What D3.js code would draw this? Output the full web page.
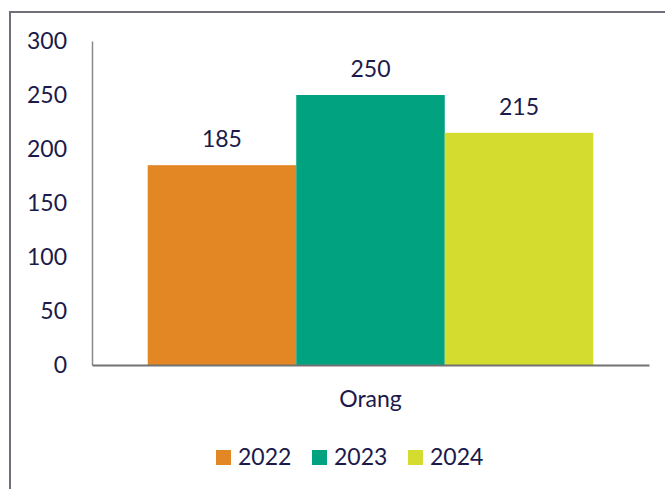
<!DOCTYPE html>
<html>
<head>
<meta charset="utf-8">
<script src="https://cdn.jsdelivr.net/npm/d3@7/dist/d3.min.js"></script>
<style>
  html, body { margin: 0; padding: 0; background: #fff; }
  svg { display: block; }
  text { font-family: Lato, "Open Sans", sans-serif; fill: #1b1a4a; }
</style>
</head>
<body>
<svg id="chart" width="665" height="489"></svg>
<script>
// Chart data
const categories = ["Orang"];
const seriesNames = ["2022", "2023", "2024"];
const seriesValues = [185, 250, 215];
const yTicks = [0, 50, 100, 150, 200, 250, 300];
const seriesColors = ["#E38624", "#00A27F", "#D4DC2F"];

const svg = d3.select("#chart");
const W = 665, H = 489;
const plot = { left: 92, right: 649, top: 41, bottom: 365 };

// Outer frame (only top and left edges fall inside the view)
svg.append("rect")
  .attr("x", 10).attr("y", 12)
  .attr("width", W + 20).attr("height", H + 20)
  .attr("fill", "#fff")
  .attr("stroke", "#70707a").attr("stroke-width", 2);

const x0 = d3.scaleBand().domain(categories).range([plot.left, plot.right]).paddingInner(0).paddingOuter(0);
const x1 = d3.scaleBand().domain(seriesNames).range([0, x0.bandwidth()]).paddingInner(0).paddingOuter(0.375);
const y = d3.scaleLinear().domain([0, 300]).range([plot.bottom, plot.top]);
const color = d3.scaleOrdinal().domain(seriesNames).range(seriesColors);

const rows = seriesNames.map((s, i) => ({ cat: categories[0], series: s, value: seriesValues[i] }));

// Bars
svg.append("g").selectAll("rect").data(rows).join("rect")
  .attr("x", d => x0(d.cat) + x1(d.series))
  .attr("y", d => y(d.value))
  .attr("width", x1.bandwidth())
  .attr("height", d => y(0) - y(d.value))
  .attr("fill", d => color(d.series));

// Value labels
svg.append("g").selectAll("text").data(rows).join("text")
  .attr("x", d => x0(d.cat) + x1(d.series) + x1.bandwidth() / 2)
  .attr("y", d => y(d.value) - 18)
  .attr("text-anchor", "middle")
  .attr("font-size", 23)
  .text(d => d.value);

// Y axis
const yAxis = svg.append("g")
  .attr("transform", `translate(${plot.left},0)`)
  .call(d3.axisLeft(y).tickValues(yTicks).tickSize(0).tickPadding(25));
yAxis.select(".domain").attr("stroke", "#8a8a8a").attr("stroke-width", 1.5);
yAxis.selectAll("text")
  .attr("font-size", 23)
  .attr("fill", "#1b1a4a")
  .style("font-family", "Lato, 'Open Sans', sans-serif");

// X axis
const xAxis = svg.append("g")
  .attr("transform", `translate(0,${plot.bottom})`)
  .call(d3.axisBottom(x0).tickSize(0).tickPadding(26));
xAxis.select(".domain").attr("stroke", "#727272").attr("stroke-width", 2);
xAxis.selectAll("text")
  .attr("font-size", 23)
  .attr("fill", "#1b1a4a")
  .style("font-family", "Lato, 'Open Sans', sans-serif");

// Legend
const legendX = [216, 312, 408];
const legend = svg.append("g").selectAll("g").data(seriesNames).join("g")
  .attr("transform", (d, i) => `translate(${legendX[i]},450)`);
legend.append("rect")
  .attr("width", 15).attr("height", 15)
  .attr("fill", d => color(d));
legend.append("text")
  .attr("x", 22).attr("y", 15)
  .attr("font-size", 23)
  .text(d => d);
</script>
</body>
</html>
